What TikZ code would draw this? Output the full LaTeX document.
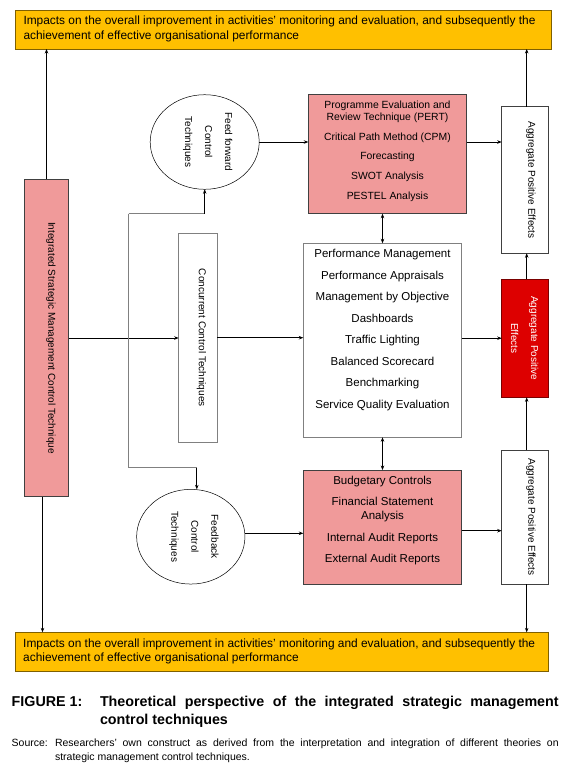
\documentclass[tikz,border=0pt]{standalone}
\usepackage{fontspec}
\setmainfont{Liberation Sans}
\usepackage{graphicx}
\usetikzlibrary{arrows.meta,shapes.geometric}
\definecolor{yel}{HTML}{FFC000}
\definecolor{yelb}{HTML}{7F6000}
\definecolor{pinkf}{HTML}{F09A9A}
\definecolor{redf}{HTML}{DD0000}
\definecolor{redb}{HTML}{7A0000}
\definecolor{lineg}{HTML}{808080}
\definecolor{boxb}{HTML}{404040}
\newcommand\padbelow[2]{\vbox{\hbox{#2}\kern#1}}
\newcommand\fs[2]{\fontsize{#1}{#2}\selectfont}
\begin{document}
\begin{tikzpicture}[x=1pt,y=-1pt,
  every node/.style={inner sep=0pt, outer sep=0pt},
  ybox/.style={draw=yelb, fill=yel, line width=0.8pt},
  pinkbox/.style={draw=boxb, fill=pinkf, line width=0.7pt},
  whitebox/.style={draw=boxb, fill=white, line width=0.7pt},
  graybox/.style={draw=lineg, fill=white, line width=0.7pt},
  redbox/.style={draw=redb, fill=redf, line width=0.7pt},
  ell/.style={ellipse, draw=black, line width=0.5pt, fill=white},
  conn/.style={draw=black, line width=0.7pt, -{Stealth[length=4.5pt,width=3.5pt]}},
  dconn/.style={draw=black, line width=0.7pt, {Stealth[length=4.5pt,width=3.5pt]}-{Stealth[length=4.5pt,width=3.5pt]}},
  gline/.style={draw=lineg, line width=0.8pt},
  gconn/.style={draw=black, line width=0.7pt, -{Stealth[length=4.5pt,width=3.5pt]}}
]
\useasboundingbox (0,0) rectangle (574,772);
\fill[white] (0,0) rectangle (574,772);

% top and bottom bands
\node[ybox, minimum width=535.6pt, minimum height=39pt] (top) at (283.5,29.5)
  {\parbox[c][39pt][t]{520pt}{\raggedright\fs{11.9}{14.5}\vspace*{6.1pt}Impacts on the overall improvement in activities' monitoring and evaluation, and subsequently the\\achievement of effective organisational performance}};
\node[ybox, minimum width=533pt, minimum height=38.7pt] (bot) at (282.2,651.7)
  {\parbox[c][38.7pt][t]{518pt}{\raggedright\fs{11.9}{14.5}\vspace*{6.1pt}Impacts on the overall improvement in activities' monitoring and evaluation, and subsequently the\\achievement of effective organisational performance}};

% left column
\node[pinkbox, minimum width=44.4pt, minimum height=317.4pt] (isc) at (46.5,338)
  {\rotatebox{-90}{\padbelow{9pt}{\fs{10}{12}Integrated Strategic Management Control Technique}}};
\node[graybox, minimum width=38.6pt, minimum height=208.7pt] (conc) at (198,337.7)
  {\rotatebox{-90}{\padbelow{7pt}{\fs{10}{12}Concurrent Control Techniques}}};

% ellipses
\node[ell, minimum width=109pt, minimum height=94.6pt] (ff) at (204.7,142)
  {\rotatebox{-90}{\padbelow{9pt}{\fs{10}{20}\begin{tabular}{@{}c@{}}Feed forward\\Control\\Techniques\end{tabular}}}};
\node[ell, minimum width=108.3pt, minimum height=94.7pt] (fb) at (190.8,536.7)
  {\rotatebox{-90}{\padbelow{9pt}{\fs{10}{20}\begin{tabular}{@{}c@{}}Feedback\\Control\\Techniques\end{tabular}}}};

% central boxes
\node[pinkbox, minimum width=158.4pt, minimum height=119.4pt] (pert) at (387.5,154)
  {\parbox[c][119.4pt][t]{158.4pt}{\centering\fs{10.4}{12.4}\vspace*{6.2pt}Programme Evaluation and\\Review Technique (PERT)\\[7.3pt]Critical Path Method (CPM)\\[7.3pt]Forecasting\\[7.3pt]SWOT Analysis\\[7.3pt]PESTEL Analysis}};
\node[graybox, minimum width=158.4pt, minimum height=194pt] (mid) at (382.5,340.3)
  {\parbox[c][194pt][t]{158.4pt}{\centering\fs{11.5}{21.57}\vspace*{5.9pt}Performance Management\\Performance Appraisals\\Management by Objective\\Dashboards\\Traffic Lighting\\Balanced Scorecard\\Benchmarking\\Service Quality Evaluation}};
\node[pinkbox, minimum width=158.4pt, minimum height=114.3pt] (bud) at (382.5,527.2)
  {\parbox[c][114.3pt][t]{158.4pt}{\centering\fs{11.5}{14.3}\vspace*{5.8pt}Budgetary Controls\\[7.1pt]Financial Statement\\Analysis\\[7.1pt]Internal Audit Reports\\[7.1pt]External Audit Reports}};

% right column
\node[whitebox, minimum width=46.6pt, minimum height=146.6pt] (agt) at (525,180)
  {\rotatebox{-90}{\padbelow{12pt}{\fs{10}{12}Aggregate Positive Effects}}};
\node[redbox, minimum width=46.6pt, minimum height=118.3pt] (red) at (525,338.2)
  {\rotatebox{-90}{\fs{10}{20}\color{white}\begin{tabular}{@{}c@{}}Aggregate Positive\\Effects\end{tabular}}};
\node[whitebox, minimum width=46.6pt, minimum height=134.3pt] (agb) at (525,517.2)
  {\rotatebox{-90}{\padbelow{12pt}{\fs{10}{12}Aggregate Positive Effects}}};

% connectors
\draw[conn] (isc.north) -- (isc.north |- top.south);
\draw[conn] ([xshift=-4pt]isc.south) -- ([xshift=-4pt]isc.south |- bot.north);
\draw[conn] (isc.east) -- (isc.east -| conc.west);
\coordinate (jt) at (128.7,213.7);
\coordinate (jb) at (128.7,467.7);
\coordinate (fbn) at ([xshift=6pt]fb.north);
\draw[gline] (jt) -- (jb);
\draw[gline] (jt) -- (jt -| ff.south);
\draw[gconn] (jt -| ff.south) -- (ff.south);
\draw[gline] (jb) -- (jb -| fbn);
\draw[gconn] (jb -| fbn) -- (fbn);
\draw[conn] (ff.east) -- (ff.east -| pert.west);
\draw[conn] (ff.east -| pert.east) -- (ff.east -| agt.west);
\draw[conn] ([xshift=1.7pt]agt.north) -- ([xshift=1.7pt]agt.north |- top.south);
\draw[dconn] (mid.north |- pert.south) -- (mid.north);
\draw[conn] (conc.east) -- (conc.east -| mid.west);
\draw[conn] (red.west -| mid.east) -- (red.west);
\draw[conn] ([xshift=1.7pt]red.north) -- ([xshift=1.7pt]agt.south);
\draw[conn] ([xshift=1.7pt]agb.north) -- ([xshift=1.7pt]red.south);
\draw[dconn] (mid.south) -- (bud.north);
\draw[conn] ([yshift=3.4pt]fb.east) -- ([yshift=3.4pt]fb.east -| bud.west);
\draw[conn] ([yshift=-3.5pt]bud.east) -- ([yshift=-3.5pt]bud.east -| agb.west);
\draw[conn] ([xshift=1.7pt]agb.south) -- ([xshift=1.7pt]agb.south |- bot.north);

% caption
\node[anchor=base west] (figlbl) at (11.7,706.9) {\fs{14.3}{17.3}\bfseries FIGURE 1:};
\node[anchor=base west] (figcap) at (100,706.9)
  {\parbox[t]{458.7pt}{\fs{14.3}{17.3}\bfseries\makebox[458.7pt][s]{Theoretical perspective of the integrated strategic management}\\control techniques}};
\node[anchor=base west] (srclbl) at (11.7,746.8) {\fs{10.5}{14}Source:};
\node[anchor=base west] (srctxt) at (55,746.8)
  {\parbox[t]{503.7pt}{\fs{10.5}{14}\makebox[503.7pt][s]{Researchers' own construct as derived from the interpretation and integration of different theories on}\\strategic management control techniques.}};
\end{tikzpicture}
\end{document}
